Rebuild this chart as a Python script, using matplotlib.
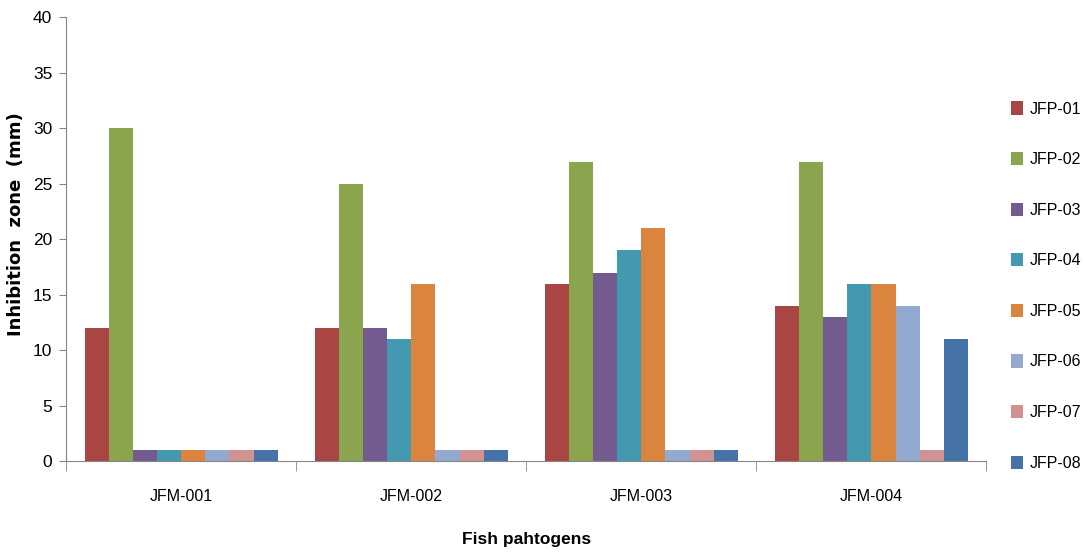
import numpy as np
import matplotlib.pyplot as plt

plt.rcParams['font.family'] = ['Liberation Sans', 'DejaVu Sans']

# data
groups = ['JFM-001', 'JFM-002', 'JFM-003', 'JFM-004']
series = ['JFP-01', 'JFP-02', 'JFP-03', 'JFP-04', 'JFP-05', 'JFP-06', 'JFP-07', 'JFP-08']
jfp01 = [12, 12, 16, 14]
jfp02 = [30, 25, 27, 27]
jfp03 = [1, 12, 17, 13]
jfp04 = [1, 11, 19, 16]
jfp05 = [1, 16, 21, 16]
jfp06 = [1, 1, 1, 14]
jfp07 = [1, 1, 1, 1]
jfp08 = [1, 1, 1, 11]
values = [jfp01, jfp02, jfp03, jfp04, jfp05, jfp06, jfp07, jfp08]
colors = ['#A94542', '#8AA54E', '#735A8F', '#4299B0', '#DB843D', '#93A9CF', '#D19392', '#4572A7']

fig = plt.figure(figsize=(10.84, 5.57), dpi=100)
ax = fig.add_axes([0.061, 0.172, 0.849, 0.797])

x = np.arange(len(groups))
w = 0.105
for i, (name, vals) in enumerate(zip(series, values)):
    ax.bar(x - 4 * w + w / 2 + i * w, vals, width=w, color=colors[i], label=name)

ax.set_xlim(-0.5, len(groups) - 0.5)
ax.set_ylim(0, 40)
ax.set_yticks(range(0, 41, 5))
ax.set_xticks(x)
ax.set_xticklabels(groups)
ax.set_xticks(np.arange(-0.5, len(groups)), minor=True)
ax.tick_params(axis='x', which='major', length=0, labelsize=11.5, pad=20)
ax.tick_params(axis='x', which='minor', length=7, color='#868686', direction='out')
ax.tick_params(axis='y', length=5, color='#868686', labelsize=12.5, pad=5)

for s in ['top', 'right']:
    ax.spines[s].set_visible(False)
for s in ['left', 'bottom']:
    ax.spines[s].set_color('#868686')

ax.set_ylabel('Inhibition  zone  (mm)', fontsize=13, fontweight='bold',
              family=['DejaVu Sans'])
ax.yaxis.set_label_coords(-0.045, 0.534)
ax.set_xlabel('Fish pahtogens', fontsize=12.5, fontweight='bold', labelpad=20)

fig.legend(loc='upper left', bbox_to_anchor=(0.933, 0.818), frameon=False,
           borderpad=0, borderaxespad=0,
           fontsize=11.5, handlelength=0.7, handleheight=0.9, handletextpad=0.45,
           labelspacing=2.22)

fig.savefig('out.png', dpi=100)
